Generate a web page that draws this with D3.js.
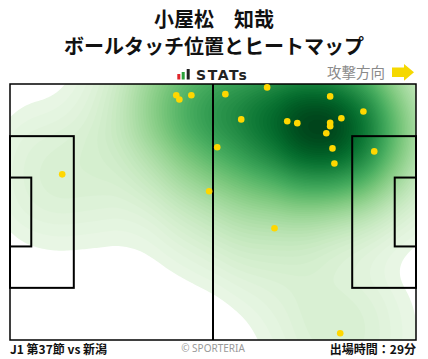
<!DOCTYPE html>
<html>
<head>
<meta charset="utf-8">
<script src="https://cdn.jsdelivr.net/npm/d3@7"></script>
<style>
  body { margin: 0; background: #fff; }
  svg { display: block; }
</style>
</head>
<body>
<svg id="chart" width="428" height="359"></svg>
<script>
// Data (pitch metres, 105 x 68, attacking left -> right)
const playerName = "小屋松　知哉";
const chartTitle = "ボールタッチ位置とヒートマップ";
const matchLabel = "J1 第37節 vs 新潟";
const minutesLabel = "出場時間：29分";
const touchX = [43.0, 43.8, 46.9, 13.5, 51.5, 66.5, 55.7, 82.8, 91.4, 59.8, 71.7,
                74.3, 82.8, 82.8, 85.7, 81.8, 53.6, 83.4, 94.2, 83.9, 68.4, 85.4];
const touchY = [3.0, 4.1, 3.0, 24.0, 28.5, 0.9, 2.7, 3.3, 7.3, 9.4, 9.9,
                10.4, 10.3, 11.2, 9.1, 13.1, 16.8, 17.1, 17.9, 21.1, 38.3, 66.2];

const touches = touchX.map((x, i) => ({ x, y: touchY[i] }));

// Layout
const pitch = { left: 10, top: 84, width: 406, height: 256 };
const svg = d3.select("#chart");

const xScale = d3.scaleLinear().domain([0, 105]).range([0, pitch.width]);
const yScale = d3.scaleLinear().domain([0, 68]).range([0, pitch.height]);

// Header
svg.append("text")
    .attr("x", 214).attr("y", 27)
    .attr("text-anchor", "middle")
    .style("font-family", "'Noto Sans CJK JP', sans-serif")
    .style("font-weight", "bold")
    .style("font-size", "20px")
    .attr("fill", "#111")
    .text(playerName);

svg.append("text")
    .attr("x", 214).attr("y", 53.5)
    .attr("text-anchor", "middle")
    .style("font-family", "'Noto Sans CJK JP', sans-serif")
    .style("font-weight", "bold")
    .style("font-size", "20px")
    .attr("fill", "#111")
    .text(chartTitle);

// STATs logo
const logo = svg.append("g");
logo.append("rect").attr("x", 177.3).attr("y", 74).attr("width", 3).attr("height", 5.5).attr("fill", "#e0262b");
logo.append("rect").attr("x", 181.7).attr("y", 72).attr("width", 3).attr("height", 7.5).attr("fill", "#2aa03a");
logo.append("rect").attr("x", 186.7).attr("y", 69).attr("width", 3).attr("height", 10.5).attr("fill", "#222");
logo.append("text")
    .attr("x", 196).attr("y", 79.5)
    .style("font-family", "'DejaVu Sans', sans-serif")
    .style("font-weight", "bold")
    .style("font-size", "14px")
    .style("letter-spacing", "1.6px")
    .attr("fill", "#222")
    .text("STATs");

// attack direction
svg.append("text")
    .attr("x", 385).attr("y", 78)
    .attr("text-anchor", "end")
    .style("font-family", "'Noto Sans CJK JP', sans-serif")
    .style("font-size", "14.5px")
    .attr("fill", "#8a8a8a")
    .text("攻撃方向");

svg.append("path")
    .attr("d", "M392,67.5 L404,67.5 L404,64 L414,72.3 L404,80.7 L404,77 L392,77 Z")
    .attr("fill", "#f5d800");

// Pitch group
const g = svg.append("g").attr("transform", `translate(${pitch.left},${pitch.top})`);

g.append("clipPath").attr("id", "pitch-clip")
    .append("rect").attr("width", pitch.width).attr("height", pitch.height);

// Heatmap (kernel density from the touches)
const contours = d3.contourDensity()
    .x(d => xScale(d.x))
    .y(d => yScale(d.y))
    .size([pitch.width, pitch.height])
    .cellSize(2)
    .bandwidth(46)
    .thresholds(80)(touches);

const maxDensity = d3.max(contours, d => d.value);
const color = d3.scaleSequential(t => d3.interpolateGreens(0.05 + 0.95 * Math.pow(t, 0.85)))
    .domain([0, maxDensity]);

g.append("g")
    .attr("clip-path", "url(#pitch-clip)")
    .selectAll("path")
    .data(contours.filter(d => d.value > maxDensity * 0.025))
    .join("path")
    .attr("d", d3.geoPath())
    .attr("fill", d => color(d.value))
    .attr("stroke", "none");

// Pitch lines
const lines = g.append("g").attr("fill", "none").attr("stroke", "#000");

lines.append("rect")
    .attr("width", pitch.width).attr("height", pitch.height)
    .attr("stroke-width", 1.5);

lines.append("line")
    .attr("x1", xScale(52.5)).attr("x2", xScale(52.5))
    .attr("y1", 0).attr("y2", pitch.height)
    .attr("stroke-width", 2);

// penalty & goal areas, [depth, width] in metres
const boxes = [[16.5, 40.3], [5.5, 18.3]];
boxes.forEach(([depth, w]) => {
    const y0 = yScale(34 - w / 2), h = yScale(w);
    lines.append("rect")
        .attr("x", 0).attr("y", y0)
        .attr("width", xScale(depth)).attr("height", h - yScale(0))
        .attr("stroke-width", 2);
    lines.append("rect")
        .attr("x", xScale(105 - depth)).attr("y", y0)
        .attr("width", xScale(depth)).attr("height", h - yScale(0))
        .attr("stroke-width", 2);
});

// Touch dots
g.append("g")
    .selectAll("circle")
    .data(touches)
    .join("circle")
    .attr("cx", d => xScale(d.x))
    .attr("cy", d => yScale(d.y))
    .attr("r", 3.3)
    .attr("fill", "#ffd700");

// Footer
svg.append("text")
    .attr("x", 10).attr("y", 354)
    .style("font-family", "'Noto Sans CJK JP', sans-serif")
    .style("font-weight", "bold")
    .style("font-size", "12px")
    .attr("fill", "#111")
    .text(matchLabel);

svg.append("text")
    .attr("x", 213).attr("y", 352)
    .attr("text-anchor", "middle")
    .style("font-family", "'Noto Sans', sans-serif")
    .style("font-size", "10px")
    .attr("fill", "#999")
    .text("© SPORTERIA");

svg.append("text")
    .attr("x", 416).attr("y", 354)
    .attr("text-anchor", "end")
    .style("font-family", "'Noto Sans CJK JP', sans-serif")
    .style("font-weight", "bold")
    .style("font-size", "12px")
    .attr("fill", "#111")
    .text(minutesLabel);
</script>
</body>
</html>
